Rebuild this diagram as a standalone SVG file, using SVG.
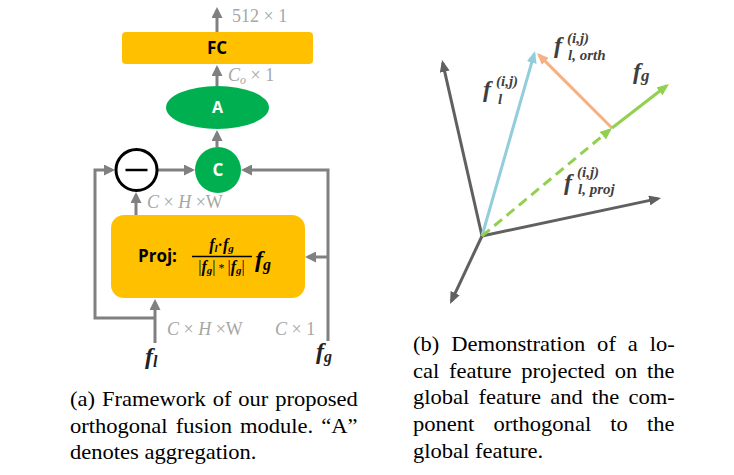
<svg xmlns="http://www.w3.org/2000/svg" width="734" height="475" viewBox="0 0 734 475">
<style>
.box{fill:#FFC000}
.grn{fill:#00B050}
.lbl{font-family:"Open Sans","Liberation Sans",sans-serif;font-weight:700;text-anchor:middle}
.dim{font-family:"Liberation Serif",serif;font-size:18px;fill:#A6A6A6}
.it{font-style:italic}
.m{font-family:"Liberation Serif",serif;font-weight:700;font-style:italic}
.mv{font-family:"Liberation Serif",serif;font-weight:700;font-style:italic;fill:#3F3F3F}
.cap{font-family:"Liberation Serif",serif;font-size:20px;fill:#000}
.con{fill:none;stroke:#808080;stroke-width:3}
.ax{fill:none;stroke:#606060;stroke-width:3}
</style>
<defs>
<marker id="ah" markerUnits="userSpaceOnUse" markerWidth="11" markerHeight="11" viewBox="0 0 11 11" refX="8" refY="5.5" orient="auto"><path d="M0,0 L11,5.5 L0,11 z" fill="#808080"/></marker>
<marker id="ahx" markerUnits="userSpaceOnUse" markerWidth="12" markerHeight="10" viewBox="0 0 12 10" refX="9" refY="5" orient="auto"><path d="M0,0 L12,5 L0,10 z" fill="#606060"/></marker>
<marker id="ahb" markerUnits="userSpaceOnUse" markerWidth="12" markerHeight="10" viewBox="0 0 12 10" refX="9" refY="5" orient="auto"><path d="M0,0 L12,5 L0,10 z" fill="#92CDDC"/></marker>
<marker id="aho" markerUnits="userSpaceOnUse" markerWidth="12" markerHeight="10" viewBox="0 0 12 10" refX="9" refY="5" orient="auto"><path d="M0,0 L12,5 L0,10 z" fill="#F4B183"/></marker>
<marker id="ahg" markerUnits="userSpaceOnUse" markerWidth="12" markerHeight="10" viewBox="0 0 12 10" refX="9" refY="5" orient="auto"><path d="M0,0 L12,5 L0,10 z" fill="#92D050"/></marker>
</defs>

<!-- (a) connectors -->
<g id="connectors-a">
<path class="con" d="M217,32 L217,10" marker-end="url(#ah)"/>
<path class="con" d="M217,86 L217,68" marker-end="url(#ah)"/>
<path class="con" d="M217,147 L217,133" marker-end="url(#ah)"/>
<path class="con" d="M158,170 L192,170" marker-end="url(#ah)"/>
<path class="con" d="M155,318 L95,318 L95,170 L112,170" marker-end="url(#ah)"/>
<path class="con" d="M155,343 L155,302" marker-end="url(#ah)"/>
<path class="con" d="M136,215 L136,195" marker-end="url(#ah)"/>
<path class="con" d="M328,341 L328,170 L244,170" marker-end="url(#ah)"/>
<path class="con" d="M328,257 L308,257" marker-end="url(#ah)"/>
</g>

<g id="fc">
<rect class="box" x="122" y="32" width="191" height="32" rx="4"/>
<text class="lbl" x="217" y="54" font-size="17" fill="#000">FC</text>
</g>
<g id="aggr">
<ellipse class="grn" cx="217.5" cy="107.5" rx="51.5" ry="21.5"/>
<text class="lbl" x="217.5" y="113" font-size="16" fill="#fff">A</text>
</g>
<g id="concat">
<circle class="grn" cx="218" cy="170" r="23"/>
<text class="lbl" x="218" y="176" font-size="17" fill="#fff">C</text>
</g>
<g id="minus">
<circle cx="136.5" cy="170" r="20.5" fill="#fff" stroke="#000" stroke-width="3"/>
<line x1="125.5" y1="170" x2="147.5" y2="170" stroke="#000" stroke-width="2.5"/>
</g>
<g id="proj">
<rect class="box" x="111" y="215" width="194" height="83" rx="13"/>
<text class="lbl" x="138" y="262" font-size="17" fill="#000" style="text-anchor:start">Proj:</text>
<text class="m" x="221.5" y="250" font-size="16" text-anchor="middle">f<tspan font-size="11" dy="2">l</tspan><tspan dy="-2" font-style="normal">·</tspan>f<tspan font-size="11" dy="2">g</tspan></text>
<line x1="192" y1="256.5" x2="252" y2="256.5" stroke="#000" stroke-width="1.3"/>
<text class="m" x="221.5" y="272" font-size="16" text-anchor="middle"><tspan font-style="normal" font-weight="400">|</tspan>f<tspan font-size="11" dy="2">g</tspan><tspan dy="-2" font-style="normal" font-weight="400">|<tspan font-size="12"> * </tspan>|</tspan>f<tspan font-size="11" dy="2">g</tspan><tspan dy="-2" font-style="normal" font-weight="400">|</tspan></text>
<text class="m" x="255" y="267" font-size="24">f<tspan font-size="16" dy="3">g</tspan></text>
</g>

<g id="dims">
<text class="dim" x="232" y="22">512 × 1</text>
<text class="dim" x="228" y="81"><tspan class="it">C</tspan><tspan class="it" font-size="12" dy="3">o</tspan><tspan dy="-3"> × 1</tspan></text>
<text class="dim" x="147" y="208"><tspan class="it">C</tspan> × <tspan class="it">H</tspan> ×W</text>
<text class="dim" x="167" y="335"><tspan class="it">C</tspan> × <tspan class="it">H</tspan> ×W</text>
<text class="dim" x="275" y="335"><tspan class="it">C</tspan> × 1</text>
</g>
<g id="input-fl"><text class="m" x="145" y="364" font-size="24" fill="#222">f<tspan font-size="16" dy="3">l</tspan></text></g>
<g id="input-fg"><text class="m" x="316" y="359" font-size="24" fill="#222">f<tspan font-size="16" dy="3">g</tspan></text></g>

<!-- (b) vectors -->
<g id="connectors-b">
<path class="ax" d="M482,236 L442.7,62.9" marker-end="url(#ahx)"/>
<path class="ax" d="M482,236 L658.1,198.6" marker-end="url(#ahx)"/>
<path class="ax" d="M482,236 L451.3,301.3" marker-end="url(#ahx)"/>
<path d="M482,236 L534.2,53.9" fill="none" stroke="#92CDDC" stroke-width="3" marker-end="url(#ahb)"/>
<path d="M612,128 L539.1,55.1" fill="none" stroke="#F4B183" stroke-width="3" marker-end="url(#aho)"/>
<path d="M482,236 L609.7,129.9" fill="none" stroke="#92D050" stroke-width="3" stroke-dasharray="10,6" marker-end="url(#ahg)"/>
<path d="M612,128 L666.6,85.8" fill="none" stroke="#92D050" stroke-width="3" marker-end="url(#ahg)"/>
</g>
<g id="labels-b">
<text class="mv" x="483" y="97" font-size="24">f</text>
<text class="mv" x="496" y="86" font-size="15">(i,j)</text>
<text class="mv" x="498" y="104" font-size="15">l</text>
<text class="mv" x="554" y="53" font-size="24">f</text>
<text class="mv" x="567" y="43" font-size="15">(i,j)</text>
<text class="mv" x="568" y="60" font-size="15">l, orth</text>
<text class="mv" x="633" y="79" font-size="24">f<tspan font-size="17" dy="2">g</tspan></text>
<text class="mv" x="564" y="190" font-size="24">f</text>
<text class="mv" x="577" y="177" font-size="15">(i,j)</text>
<text class="mv" x="578" y="194" font-size="15">l, proj</text>
</g>

<g id="caption-a" transform="scale(1.128,1)">
<text class="cap" x="62.06" y="406" word-spacing="1.1">(a) Framework of our proposed</text>
<text class="cap" x="62.06" y="432.7" word-spacing="2.1">orthogonal fusion module. “A”</text>
<text class="cap" x="62.06" y="459.3">denotes aggregation.</text>
</g>
<g id="caption-b" transform="scale(1.128,1)">
<text class="cap" x="366.13" y="351" word-spacing="5.6">(b) Demonstration of a lo-</text>
<text class="cap" x="366.13" y="377.7" word-spacing="3.6">cal feature projected on the</text>
<text class="cap" x="366.13" y="404.3" word-spacing="3.1">global feature and the com-</text>
<text class="cap" x="366.13" y="431" word-spacing="12">ponent orthogonal to the</text>
<text class="cap" x="366.13" y="457.7">global feature.</text>
</g>
</svg>
